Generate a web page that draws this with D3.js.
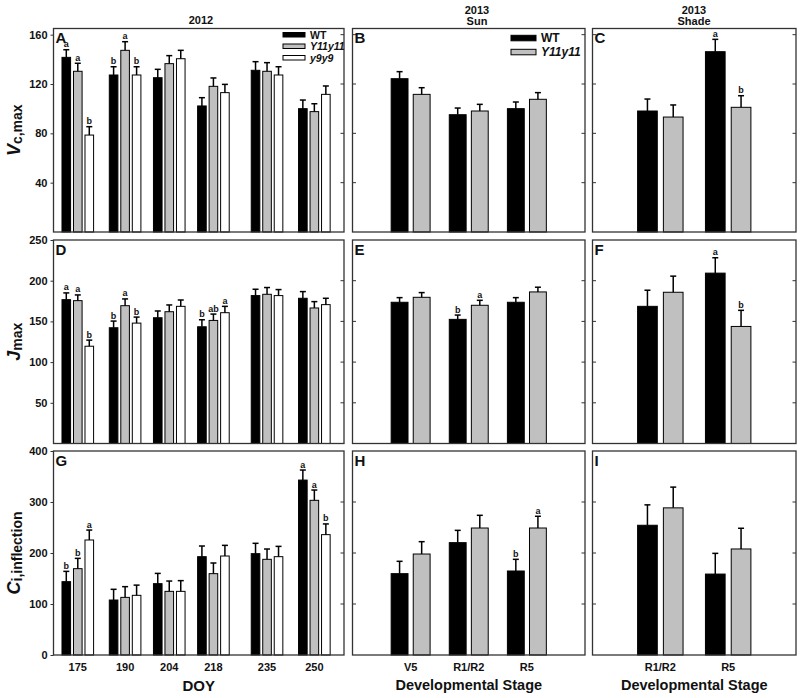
<!DOCTYPE html>
<html><head><meta charset="utf-8">
<script src="https://cdn.jsdelivr.net/npm/d3@7"></script>
<style>
body{margin:0;background:#fff}
svg{display:block}
text{font-family:"Liberation Sans",Arial,Helvetica,sans-serif;font-weight:bold;fill:#111}
</style>
</head><body><svg id="c" width="800" height="698"></svg>
<script>
// ---------------- DATA ----------------
const doy = [175, 190, 204, 218, 235, 250];
const sunStages = ["V5", "R1/R2", "R5"];
const shadeStages = ["R1/R2", "R5"];
const genotypes = ["WT", "Y11y11", "y9y9"];

// Panel A: Vc,max 2012
const vcWT  = [141.6, 127.3, 125.1, 102.2, 131.1, 100.0];
const vcWTe = [6.2, 6.7, 6.8, 6.7, 7.0, 7.0];
const vcY11  = [130.3, 147.3, 136.5, 118.1, 130.3, 97.6];
const vcY11e = [6.5, 7.0, 6.5, 6.8, 7.0, 6.4];
const vcY9  = [78.6, 127.3, 140.5, 113.0, 127.3, 111.6];
const vcY9e = [6.8, 6.7, 6.8, 6.7, 6.7, 6.8];
const vcWTl = ["a", "b", "", "", "", ""];
const vcY11l = ["a", "a", "", "", "", ""];
const vcY9l = ["b", "b", "", "", "", ""];

// Panel D: Jmax 2012
const jWT  = [176.7, 142.2, 154.5, 143.4, 181.7, 178.4];
const jWTe = [8.3, 8.2, 8.3, 8.6, 7.8, 8.2];
const jY11  = [175.5, 169.3, 161.9, 151.2, 183.3, 166.5];
const jY11e = [7.0, 8.3, 8.3, 7.8, 8.3, 7.8];
const jY9  = [119.5, 147.9, 168.5, 160.7, 181.7, 170.6];
const jY9e = [7.5, 7.4, 7.8, 7.8, 7.4, 7.8];
const jWTl = ["a", "b", "", "b", "", ""];
const jY11l = ["a", "a", "", "ab", "", ""];
const jY9l = ["b", "b", "", "a", "", ""];

// Panel G: Ci,inflection 2012
const ciWT  = [143.8, 107.8, 139.9, 192.8, 198.7, 343.0];
const ciWTe = [20.2, 21.0, 20.1, 20.9, 20.3, 19.7];
const ciY11  = [169.3, 113.0, 124.8, 159.5, 187.6, 303.3];
const ciY11e = [20.2, 21.0, 20.2, 20.9, 20.2, 20.2];
const ciY9  = [225.5, 117.0, 124.8, 194.1, 192.8, 236.0];
const ciY9e = [19.5, 20.0, 21.0, 20.9, 20.2, 21.0];
const ciWTl = ["b", "", "", "", "", "a"];
const ciY11l = ["b", "", "", "", "", "a"];
const ciY9l = ["a", "", "", "", "", "b"];

// 2013 Sun (B, E, H)
const sunVcWT = [124.3, 95.1, 100.0],  sunVcWTe = [5.7, 5.4, 5.4];
const sunVcY11 = [111.6, 98.1, 107.6], sunVcY11e = [5.4, 5.4, 5.4];
const sunJWT = [173.5, 152.5, 173.5],  sunJWTe = [5.7, 5.3, 5.7];
const sunJY11 = [179.6, 169.8, 186.2], sunJY11e = [5.8, 6.1, 5.8];
const sunJWTl = ["", "b", ""], sunJY11l = ["", "a", ""];
const sunCiWT = [159.5, 220.3, 164.7], sunCiWTe = [24.2, 24.1, 22.9];
const sunCiY11 = [198.0, 249.0, 249.0], sunCiY11e = [24.2, 24.9, 23.0];
const sunCiWTl = ["", "", "b"], sunCiY11l = ["", "", "a"];

// 2013 Shade (C, F, I)
const shVcWT = [98.1, 146.2],  shVcWTe = [9.7, 10.0];
const shVcY11 = [93.2, 101.1], shVcY11e = [9.8, 9.4];
const shVcWTl = ["", "a"], shVcY11l = ["", "b"];
const shJWT = [168.5, 209.3],  shJWTe = [19.8, 18.9];
const shJY11 = [185.8, 143.8], shJY11e = [19.8, 19.8];
const shJWTl = ["", "a"], shJY11l = ["", "b"];
const shCiWT = [254.4, 158.7],  shCiWTe = [40.0, 40.6];
const shCiY11 = [288.5, 207.9], shCiY11e = [40.7, 40.6];

const vcTicks = [40, 80, 120, 160];
const jTicks = [50, 100, 150, 200, 250];
const ciTicks = [0, 100, 200, 300, 400];

// ---------------- LAYOUT ----------------
const svg = d3.select("#c");
const cols = [[53.5, 344], [352.5, 585], [592.5, 796]];
const rows = [[28.5, 232], [240, 443.5], [451, 655]];
const fills = {WT: "#000000", Y11y11: "#c0c0c0", y9y9: "#ffffff"};
const none = v => v.map(() => "");

function S(name, vals, errs, lets) { return {name, vals, errs, lets: lets || none(vals)}; }

const panels = [
  {c:0, r:0, L:"A", dom:[0,165], ticks:vcTicks, cats:doy, kind:"doy",
   series:[S("WT",vcWT,vcWTe,vcWTl), S("Y11y11",vcY11,vcY11e,vcY11l), S("y9y9",vcY9,vcY9e,vcY9l)]},
  {c:1, r:0, L:"B", dom:[0,165], ticks:vcTicks, cats:sunStages, kind:"stage",
   series:[S("WT",sunVcWT,sunVcWTe), S("Y11y11",sunVcY11,sunVcY11e)]},
  {c:2, r:0, L:"C", dom:[0,165], ticks:vcTicks, cats:shadeStages, kind:"stage",
   series:[S("WT",shVcWT,shVcWTe,shVcWTl), S("Y11y11",shVcY11,shVcY11e,shVcY11l)]},
  {c:0, r:1, L:"D", dom:[0,250], ticks:jTicks, cats:doy, kind:"doy",
   series:[S("WT",jWT,jWTe,jWTl), S("Y11y11",jY11,jY11e,jY11l), S("y9y9",jY9,jY9e,jY9l)]},
  {c:1, r:1, L:"E", dom:[0,250], ticks:jTicks, cats:sunStages, kind:"stage",
   series:[S("WT",sunJWT,sunJWTe,sunJWTl), S("Y11y11",sunJY11,sunJY11e,sunJY11l)]},
  {c:2, r:1, L:"F", dom:[0,250], ticks:jTicks, cats:shadeStages, kind:"stage",
   series:[S("WT",shJWT,shJWTe,shJWTl), S("Y11y11",shJY11,shJY11e,shJY11l)]},
  {c:0, r:2, L:"G", dom:[0,400], ticks:ciTicks, cats:doy, kind:"doy",
   series:[S("WT",ciWT,ciWTe,ciWTl), S("Y11y11",ciY11,ciY11e,ciY11l), S("y9y9",ciY9,ciY9e,ciY9l)]},
  {c:1, r:2, L:"H", dom:[0,400], ticks:ciTicks, cats:sunStages, kind:"stage",
   series:[S("WT",sunCiWT,sunCiWTe,sunCiWTl), S("Y11y11",sunCiY11,sunCiY11e,sunCiY11l)]},
  {c:2, r:2, L:"I", dom:[0,400], ticks:ciTicks, cats:shadeStages, kind:"stage",
   series:[S("WT",shCiWT,shCiWTe), S("Y11y11",shCiY11,shCiY11e)]}
];

panels.forEach(p => {
  const [x0, x1] = cols[p.c], [y0, y1] = rows[p.r];
  const y = d3.scaleLinear().domain(p.dom).range([y1, y0]);
  let x, bw, offs;
  if (p.kind === "doy") {
    x = d3.scaleLinear().domain([167.3, 259.4]).range([x0, x1]);
    bw = 8.6; offs = [-11.5, 0, 11.5];
  } else {
    x = d3.scalePoint().domain(p.cats).range([x0, x1]).padding(1);
    const st = x.step();
    bw = 0.29 * st; offs = [-0.19 * st, 0.19 * st];
  }
  const g = svg.append("g");

  const tk = p.ticks.filter(t => t > p.dom[0] && t < p.dom[1]);
  g.selectAll(".tr").data(tk).join("line")
    .attr("x1", x1 - 3.5).attr("x2", x1).attr("y1", d => y(d)).attr("y2", d => y(d))
    .attr("stroke", "#333").attr("stroke-width", 1);
  if (p.c > 0) {
    g.selectAll(".tl").data(tk).join("line")
      .attr("x1", x0).attr("x2", x0 + 3.5).attr("y1", d => y(d)).attr("y2", d => y(d))
      .attr("stroke", "#333").attr("stroke-width", 1);
  } else {
    const ax = d3.axisLeft(y).tickValues(p.ticks).tickSize(3).tickPadding(3).tickFormat(d3.format("d"));
    const ag = g.append("g").attr("transform", `translate(${x0},0)`).call(ax);
    ag.select(".domain").remove();
    ag.selectAll(".tick line").attr("stroke", "#333");
    ag.selectAll(".tick text").attr("font-size", 11).attr("font-family", null).attr("fill", "#111");
  }

  p.series.forEach((s, si) => {
    const cx = (d, i) => x(p.cats[i]) + offs[si];
    const sg = g.append("g");
    sg.selectAll("rect").data(s.vals).join("rect")
      .attr("x", (d, i) => cx(d, i) - bw / 2).attr("width", bw)
      .attr("y", d => y(d)).attr("height", d => y(0) - y(d))
      .attr("fill", fills[s.name]).attr("stroke", "#000").attr("stroke-width", 1);
    sg.selectAll(".ev").data(s.vals).join("line")
      .attr("x1", cx).attr("x2", cx)
      .attr("y1", d => y(d)).attr("y2", (d, i) => y(d + s.errs[i]))
      .attr("stroke", "#000").attr("stroke-width", 1.5);
    sg.selectAll(".ec").data(s.vals).join("line")
      .attr("x1", (d, i) => cx(d, i) - 3).attr("x2", (d, i) => cx(d, i) + 3)
      .attr("y1", (d, i) => y(d + s.errs[i])).attr("y2", (d, i) => y(d + s.errs[i]))
      .attr("stroke", "#000").attr("stroke-width", 1.5);
    sg.selectAll(".lt").data(s.vals).join("text")
      .attr("x", cx).attr("y", (d, i) => y(d + s.errs[i]) - 2.5)
      .attr("text-anchor", "middle").attr("font-size", 9)
      .text((d, i) => s.lets[i]);
  });

  g.append("rect").attr("x", x0).attr("y", y0).attr("width", x1 - x0).attr("height", y1 - y0)
    .attr("fill", "none").attr("stroke", "#333").attr("stroke-width", 1.3);

  g.append("text").attr("x", x0 + 2).attr("y", y0 + 14.5).attr("font-size", 15).text(p.L);

  if (p.r === 2) {
    g.selectAll(".xl").data(p.cats).join("text")
      .attr("x", d => x(d)).attr("y", y1 + 16).attr("text-anchor", "middle")
      .attr("font-size", 11).text(d => d);
  }
});

function legend(names, lx, ly, dy, rw, rh, fs) {
  const lg = svg.append("g");
  names.forEach((n, i) => {
    lg.append("rect").attr("x", lx).attr("y", ly + i * dy).attr("width", rw).attr("height", rh)
      .attr("fill", fills[n]).attr("stroke", "#000").attr("stroke-width", 1);
    lg.append("text").attr("x", lx + rw + 5).attr("y", ly + i * dy + rh / 2 + fs * 0.36)
      .attr("font-size", fs).attr("font-style", n === "WT" ? "normal" : "italic").text(n);
  });
}
legend(genotypes, 283, 32.5, 11.5, 22, 4.5, 10.5);
legend(genotypes.slice(0, 2), 511, 35.3, 14, 25, 5.5, 12);

const tt = svg.append("g");
tt.append("text").attr("x", 201).attr("y", 24).attr("text-anchor", "middle").attr("font-size", 11).text("2012");
tt.append("text").attr("x", 477).attr("y", 14).attr("text-anchor", "middle").attr("font-size", 11).text("2013");
tt.append("text").attr("x", 477).attr("y", 24.5).attr("text-anchor", "middle").attr("font-size", 11).text("Sun");
tt.append("text").attr("x", 694).attr("y", 14).attr("text-anchor", "middle").attr("font-size", 11).text("2013");
tt.append("text").attr("x", 694).attr("y", 24.5).attr("text-anchor", "middle").attr("font-size", 11).text("Shade");

svg.append("text").attr("x", (cols[0][0] + cols[0][1]) / 2).attr("y", 691).attr("text-anchor", "middle")
  .attr("font-size", 15).text("DOY");
svg.append("text").attr("x", (cols[1][0] + cols[1][1]) / 2).attr("y", 690).attr("text-anchor", "middle")
  .attr("font-size", 14.5).text("Developmental Stage");
svg.append("text").attr("x", (cols[2][0] + cols[2][1]) / 2).attr("y", 690).attr("text-anchor", "middle")
  .attr("font-size", 14.5).text("Developmental Stage");

function ytitle(main, sub, r) {
  const cy = (rows[r][0] + rows[r][1]) / 2;
  const t = svg.append("text").attr("transform", `translate(20,${cy}) rotate(-90)`)
    .attr("text-anchor", "middle");
  t.append("tspan").attr("font-size", 18).attr("font-style", "italic").text(main);
  t.append("tspan").attr("font-size", 14).attr("dy", 2).text(sub);
}
ytitle("V", "c,max", 0);
ytitle("J", "max", 1);
ytitle("C", "i,inflection", 2);
</script>
</body></html>
